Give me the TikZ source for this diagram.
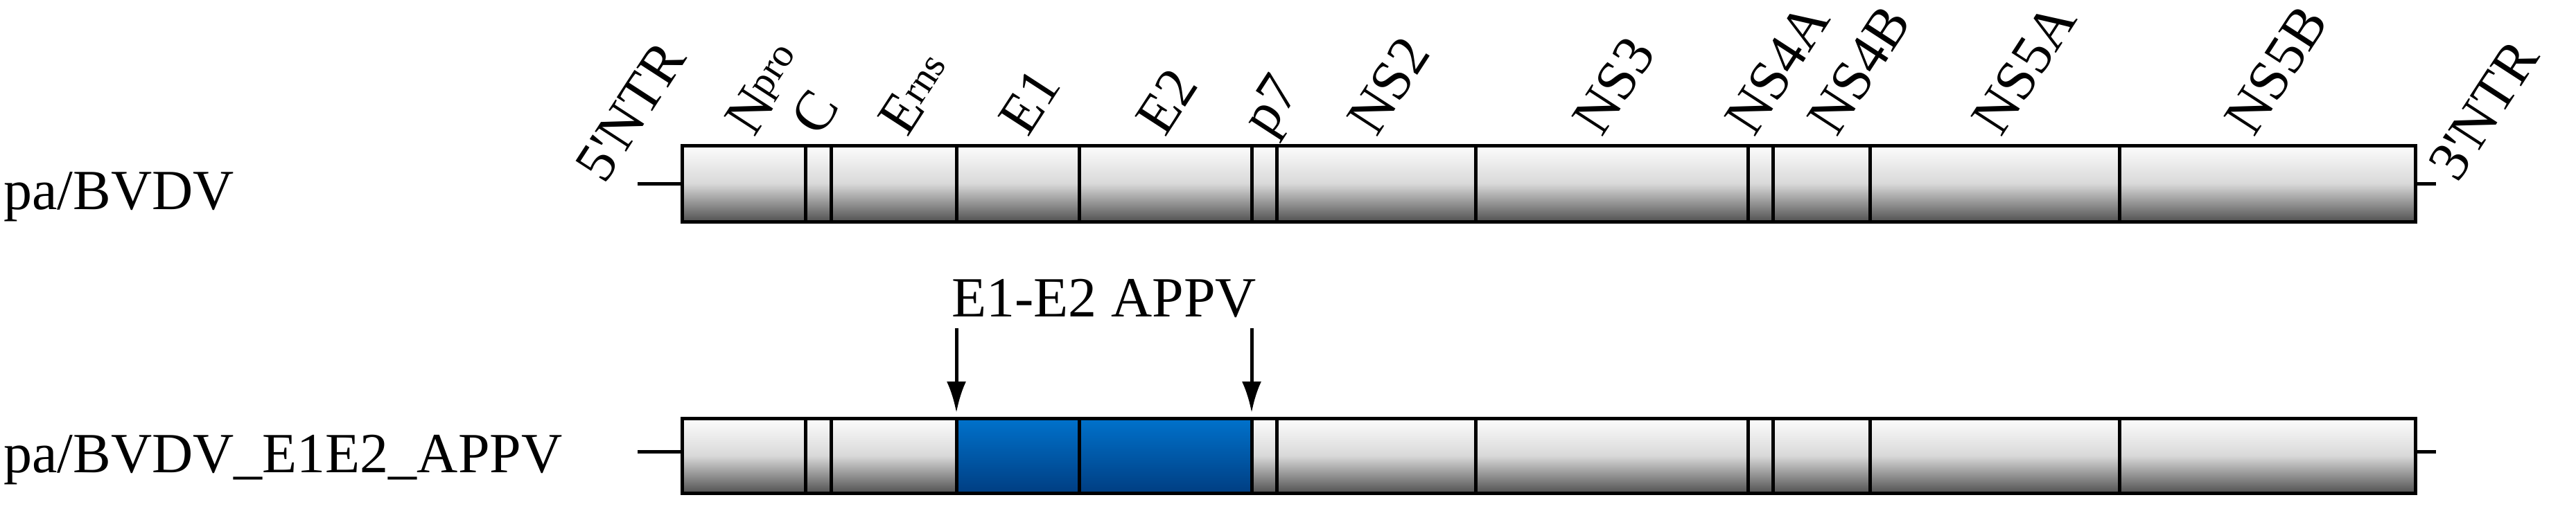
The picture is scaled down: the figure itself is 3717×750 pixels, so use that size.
\documentclass[tikz,border=0pt]{standalone}
\usetikzlibrary{arrows.meta}
\usepackage{fontspec}
\setmainfont{Liberation Serif}
\begin{document}
\begin{tikzpicture}[x=1pt,y=-1pt,
  lbl/.style={font=\fontsize{82}{90}\selectfont},
  rlbl/.style={font=\fontsize{82}{90}\selectfont,rotate=57,anchor=base west,inner sep=0},
  grayseg/.style={draw=black,line width=5pt,top color=gray!2,bottom color=black!68,middle color=gray!30},
  blueseg/.style={draw=black,line width=5pt,top color={rgb,255:red,0;green,114;blue,204},bottom color={rgb,255:red,0;green,62;blue,130}},
  tail/.style={line width=5pt},
  arr/.style={line width=5pt,-{Latex[length=45pt,width=28pt]}}]
\useasboundingbox (0,0) rectangle (3717,750);
% row 1
\foreach \a/\b in {984/1162,1162/1199,1199/1380,1380/1557,1557/1806,1806/1842,1842/2129,2129/2522,2522/2558,2558/2698,2698/3058,3058/3485}
  \path[grayseg] (\a,210) rectangle (\b,320);
% row 2
\foreach \a/\b in {984/1162,1162/1199,1199/1380,1806/1842,1842/2129,2129/2522,2522/2558,2558/2698,2698/3058,3058/3485}
  \path[grayseg] (\a,604) rectangle (\b,712);
\foreach \a/\b in {1380/1557,1557/1806}
  \path[blueseg] (\a,604) rectangle (\b,712);
\coordinate (l1) at (920,265); \coordinate (b1l) at (984,265);
\coordinate (r1) at (3515,265); \coordinate (b1r) at (3485,265);
\coordinate (l2) at (920,652); \coordinate (b2l) at (984,652);
\coordinate (r2) at (3515,652); \coordinate (b2r) at (3485,652);
\draw[tail] (l1)--(b1l) (b1r)--(r1) (l2)--(b2l) (b2r)--(r2);
% left labels
\node[lbl,anchor=west,inner sep=0] (n1) at (5,284) {pa/BVDV};
\node[lbl,anchor=west,inner sep=0] (n2) at (5,664) {pa/BVDV\_E1E2\_APPV};
% rotated labels
\node[rlbl] at (872,268) {5\textquotesingle NTR};
\node[rlbl] at (1088,200) {N\textsuperscript{pro}};
\node[rlbl] at (1183,200) {C};
\node[rlbl] at (1309,200) {E\textsuperscript{rns}};
\node[rlbl] at (1483,200) {E1};
\node[rlbl] at (1681,200) {E2};
\node[rlbl] at (1832,200) {p7};
\node[rlbl] at (1986,200) {NS2};
\node[rlbl] at (2311,200) {NS3};
\node[rlbl] at (2531,200) {NS4A};
\node[rlbl] at (2650,200) {NS4B};
\node[rlbl] at (2887,200) {NS5A};
\node[rlbl] at (3252,200) {NS5B};
\node[rlbl] at (3546,266) {3\textquotesingle NTR};
% APPV marker
\node[lbl,inner sep=0,anchor=base] (appv) at (1593,457) {E1-E2 APPV};
\coordinate (a1) at (1380,474); \coordinate (a1e) at (1380,596);
\coordinate (a2) at (1806,474); \coordinate (a2e) at (1806,596);
\draw[arr] (a1)--(a1e);
\draw[arr] (a2)--(a2e);
\end{tikzpicture}
\end{document}
